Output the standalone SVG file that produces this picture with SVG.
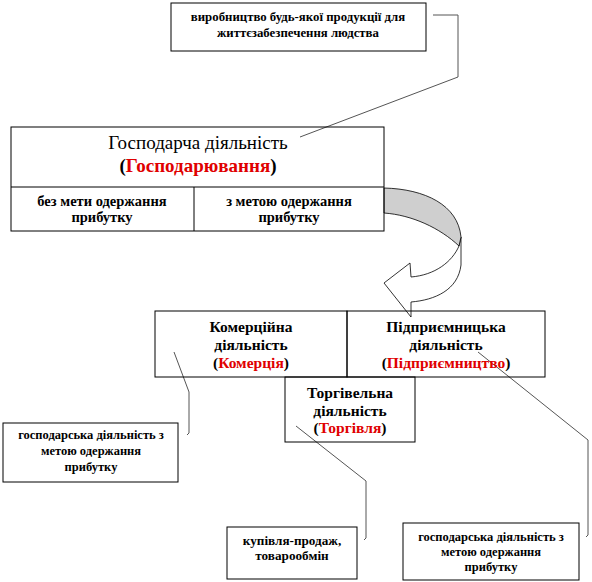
<svg xmlns="http://www.w3.org/2000/svg" width="592" height="582" viewBox="0 0 592 582" font-family="'Liberation Serif', 'DejaVu Serif', serif">
<style>
text{font-family:'Liberation Serif','DejaVu Serif',serif}
.box{fill:none;stroke:#000;stroke-width:1}
.t{font-weight:bold;text-anchor:middle;fill:#000}
.r{fill:#e00000}
.c{fill:none;stroke:#555;stroke-width:1}
.s12{font-size:12.8px}
.s13{font-size:14.5px}
.s14{font-size:15.5px}
.s11{font-size:12.5px}
.sk{font-size:13.2px}
</style>
<rect width="592" height="582" fill="#fff"/>
<g id="arrow">
<path d="M461,237 L461,265 C458,290 435,300 411,302 L411,317 L384,283 L410,263 L411,277 C435,275 452,262 459,246 Z" fill="#fff" stroke="#000" stroke-width="0.8"/>
<path d="M384,188 C425,189 458,205 461,237 L459,246 C440,228 412,215 384,213 Z" fill="#cfcfcf" stroke="#000" stroke-width="0.8"/>
</g>
<g id="connectors">
<polyline class="c" points="433,15 458,15 458,77 300,137"/>
<polyline class="c" points="174,352 189,392 189,433 187,435"/>
<polyline class="c" points="296,426 366,481 366,538 364,540"/>
<polyline class="c" points="478,352 588,440 588,535 586,537"/>
</g>
<g id="top">
<rect class="box" x="171" y="3" width="255" height="48"/>
<text class="t s12" x="298" y="21">виробництво будь-якої продукції для</text>
<text class="t s12" x="298" y="37">життєзабезпечення людства</text>
</g>
<g id="main">
<rect class="box" x="11" y="127" width="373" height="104"/>
<line class="box" x1="11" y1="187" x2="384" y2="187"/>
<line class="box" x1="194" y1="187" x2="194" y2="231"/>
<text class="t" x="198" y="149" style="font-size:19px;font-weight:normal">Господарча діяльність</text>
<text class="t" x="198" y="172" style="font-size:19px">(<tspan class="r">Господарювання</tspan>)</text>
<text class="t s13" x="102" y="206">без мети одержання</text>
<text class="t s13" x="102" y="222">прибутку</text>
<text class="t s13" x="289" y="206">з метою одержання</text>
<text class="t s13" x="289" y="222">прибутку</text>
</g>
<g id="komertsiia">
<rect class="box" x="155" y="311" width="192" height="66"/>
<text class="t s14" x="251" y="332">Комерційна</text>
<text class="t s14" x="251" y="350">діяльність</text>
<text class="t s14" x="251" y="368">(<tspan class="r">Комерція</tspan>)</text>
</g>
<g id="pidpryiemnytstvo">
<rect class="box" x="347" y="311" width="198" height="66"/>
<text class="t s14" x="446" y="332">Підприємницька</text>
<text class="t s14" x="446" y="350">діяльність</text>
<text class="t s14" x="446" y="368">(<tspan class="r">Підприємництво</tspan>)</text>
</g>
<g id="torhivlia">
<rect class="box" x="285" y="377" width="130" height="65"/>
<text class="t s14" x="350" y="398">Торгівельна</text>
<text class="t s14" x="350" y="416">діяльність</text>
<text class="t s14" x="350" y="433">(<tspan class="r">Торгівля</tspan>)</text>
</g>
<g id="left-note">
<rect class="box" x="3" y="423" width="175" height="59"/>
<text class="t s11" x="91" y="439">господарська діяльність  з</text>
<text class="t s11" x="91" y="455">метою одержання</text>
<text class="t s11" x="91" y="471">прибутку</text>
</g>
<g id="kupivlia">
<rect class="box" x="227" y="527" width="130" height="52"/>
<text class="t sk" x="292" y="545">купівля-продаж,</text>
<text class="t sk" x="292" y="560">товарообмін</text>
</g>
<g id="right-note">
<rect class="box" x="403" y="523" width="176" height="57"/>
<text class="t s11" x="491" y="541">господарська діяльність  з</text>
<text class="t s11" x="491" y="556">метою одержання</text>
<text class="t s11" x="491" y="571">прибутку</text>
</g>
</svg>
